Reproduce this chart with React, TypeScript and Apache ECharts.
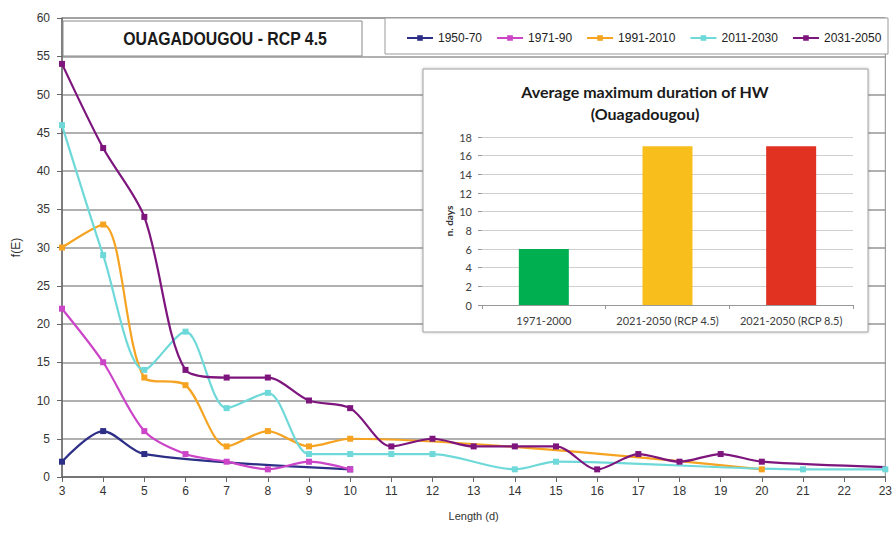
import React, { useEffect, useRef } from "react";
import * as echarts from "echarts";

// Heat-wave frequency f(E) by event length (days), per period
const x1950 = [3, 4, 5, 10];
const y1950 = [2, 6, 3, 1];

const x1971 = [3, 4, 5, 6, 7, 8, 9, 10];
const y1971 = [22, 15, 6, 3, 2, 1, 2, 1];

const x1991 = [3, 4, 5, 6, 7, 8, 9, 10, 20];
const y1991 = [30, 33, 13, 12, 4, 6, 4, 5, 1];

const x2011 = [3, 4, 5, 6, 7, 8, 9, 10, 11, 12, 14, 15, 21, 23];
const y2011 = [46, 29, 14, 19, 9, 11, 3, 3, 3, 3, 1, 2, 1, 1];

const x2031 = [3, 4, 5, 6, 7, 8, 9, 10, 11, 12, 13, 14, 15, 16, 17, 18, 19, 20, 23];
const y2031 = [54, 43, 34, 14, 13, 13, 10, 9, 4, 5, 4, 4, 4, 1, 3, 2, 3, 2, 1.3];

const seriesNames = ["1950-70", "1971-90", "1991-2010", "2011-2030", "2031-2050"];
const seriesColors = ["#2d2f87", "#cc44c8", "#f5a321", "#6fd9d9", "#7d157d"];

// Inset: average maximum duration of heat waves
const insetCategories = ["1971-2000", "2021-2050 (RCP 4.5)", "2021-2050 (RCP 8.5)"];
const insetValues = [6, 17, 17];
const insetColors = ["#00b050", "#f8bf1c", "#e03121"];

const FONT = "'Liberation Sans', Arial, sans-serif";
const FONT_C = "Lato, 'Open Sans', sans-serif";

function zip(xs: number[], ys: number[]) {
  return xs.map((x, i) => [x, ys[i]]);
}

export default function App() {
  const ref = useRef<HTMLDivElement>(null);

  useEffect(() => {
    document.body.style.margin = "0";
    if (!ref.current) return;
    const chart = echarts.init(ref.current, undefined, { renderer: "svg" });

    const pairs = [
      zip(x1950, y1950),
      zip(x1971, y1971),
      zip(x1991, y1991),
      zip(x2011, y2011),
      zip(x2031, y2031),
    ];

    const lineSeries = pairs.map((data, i) => ({
      name: seriesNames[i],
      type: "line",
      xAxisIndex: 0,
      yAxisIndex: 0,
      smooth: 0.3,
      data: data.map((p, j) =>
        // the last 2031-2050 point runs off the axis end without a marker
        i === 4 && j === data.length - 1 ? { value: p, symbol: "none" } : p
      ),
      symbol: "rect",
      symbolSize: 6,
      lineStyle: { color: seriesColors[i], width: 2.2 },
      itemStyle: { color: seriesColors[i] },
      z: 2,
    }));

    const option: any = {
      animation: false,
      textStyle: { fontFamily: FONT },
      grid: [
        {
          left: 62,
          right: 9,
          top: 18,
          bottom: 66,
          show: true,
          borderColor: "#8a8a8a",
          borderWidth: 1,
        },
        { left: 482, width: 371, top: 137, height: 168 },
      ],
      legend: {
        data: seriesNames,
        left: 406,
        top: 32,
        width: 485,
        padding: 0,
        itemWidth: 26,
        itemHeight: 7,
        itemGap: 14,
        z: 10,
        textStyle: { fontSize: 12, color: "#222", fontFamily: FONT },
      },
      xAxis: [
        {
          type: "value",
          gridIndex: 0,
          min: 3,
          max: 23,
          interval: 1,
          name: "Length (d)",
          nameLocation: "middle",
          nameGap: 33,
          nameTextStyle: { fontSize: 11, color: "#333" },
          axisLine: { lineStyle: { color: "#666", width: 1.5 } },
          axisTick: { show: true, length: 5, lineStyle: { color: "#666" } },
          axisLabel: { fontSize: 12, color: "#333", margin: 8 },
          splitLine: { show: false },
        },
        {
          type: "category",
          gridIndex: 1,
          data: insetCategories,
          z: 10,
          axisLine: { lineStyle: { color: "#999" } },
          axisTick: { show: true, length: 4, lineStyle: { color: "#999" } },
          axisLabel: {
            fontSize: 11,
            color: "#404040",
            fontFamily: FONT_C,
            margin: 10,
            interval: 0,
            hideOverlap: false,
          },
        },
      ],
      yAxis: [
        {
          type: "value",
          gridIndex: 0,
          min: 0,
          max: 60,
          interval: 5,
          name: "f(E)",
          nameLocation: "middle",
          nameGap: 40,
          nameRotate: 90,
          nameTextStyle: { fontSize: 12, color: "#333" },
          axisLine: { show: true, lineStyle: { color: "#666", width: 1.5 } },
          axisTick: { show: true, length: 5, lineStyle: { color: "#666" } },
          axisLabel: { fontSize: 12, color: "#333", margin: 12 },
          splitLine: { show: true, lineStyle: { color: "#969696", width: 1.5 } },
        },
        {
          type: "value",
          gridIndex: 1,
          min: 0,
          max: 18,
          interval: 2,
          z: 10,
          name: "n. days",
          nameLocation: "middle",
          nameGap: 28,
          nameRotate: 90,
          nameTextStyle: { fontSize: 10, fontWeight: "bold", color: "#333", fontFamily: FONT_C },
          axisLine: { show: false },
          axisTick: { show: true, length: 4, lineStyle: { color: "#999" } },
          axisLabel: { fontSize: 11, color: "#404040", fontFamily: FONT_C, margin: 10 },
          splitLine: { show: true, lineStyle: { color: "#cfcfcf", width: 1 } },
        },
      ],
      graphic: [
        {
          type: "rect",
          z: 3,
          shape: { x: 63, y: 21, width: 299, height: 35 },
          style: { fill: "#fff", stroke: "#8a8a8a", lineWidth: 1 },
        },
        {
          type: "text",
          z: 4,
          x: 225,
          y: 39,
          style: {
            text: "OUAGADOUGOU - RCP 4.5",
            fontFamily: FONT,
            fontWeight: "bold",
            fontSize: 18,
            fill: "#1a1a1a",
            align: "center",
            verticalAlign: "middle",
          },
          scaleX: 0.88,
          originX: 0,
        },
        {
          type: "rect",
          z: 3,
          shape: { x: 385, y: 18, width: 503, height: 36 },
          style: { fill: "#fff", stroke: "#9a9a9a", lineWidth: 1 },
        },
        {
          type: "rect",
          z: 5,
          shape: { x: 423, y: 69, width: 445, height: 263 },
          style: {
            fill: "#fff",
            stroke: "#a0a0a0",
            lineWidth: 1,
            shadowBlur: 3,
            shadowColor: "rgba(0,0,0,0.25)",
          },
        },
        {
          type: "text",
          z: 10,
          x: 645,
          y: 102,
          style: {
            text: "Average maximum duration of HW\n(Ouagadougou)",
            fontFamily: FONT_C,
            fontWeight: "bold",
            fontSize: 16,
            lineHeight: 22,
            fill: "#1a1a1a",
            align: "center",
            verticalAlign: "middle",
          },
        },
      ],
      series: [
        ...lineSeries,
        {
          type: "bar",
          xAxisIndex: 1,
          yAxisIndex: 1,
          z: 10,
          barWidth: 50,
          data: insetValues.map((v, i) => ({ value: v, itemStyle: { color: insetColors[i] } })),
        },
      ],
    };

    chart.setOption(option);
    return () => chart.dispose();
  }, []);

  return <div ref={ref} style={{ width: 895, height: 543 }} />;
}
